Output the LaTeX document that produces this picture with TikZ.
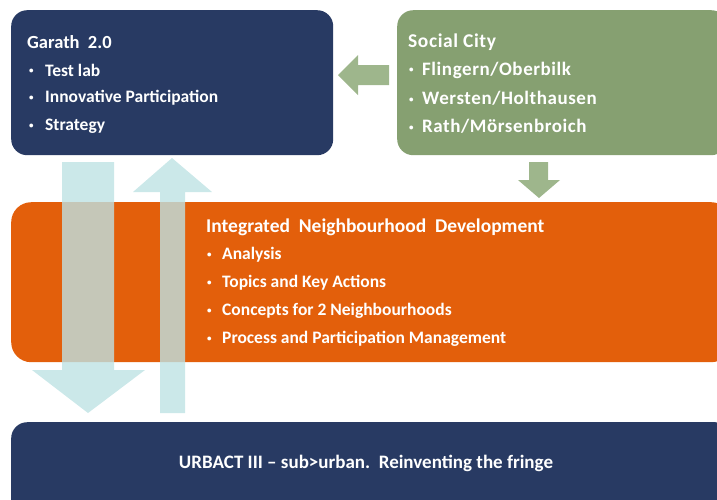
\documentclass[tikz,border=0pt]{standalone}
\usepackage{fontspec}
\setmainfont{Carlito}
\usetikzlibrary{positioning}
\definecolor{GarathNavy}{RGB}{40,58,99}
\definecolor{SocialGreen}{RGB}{134,160,113}
\definecolor{ArrowGreen}{RGB}{158,182,140}
\definecolor{IndOrange}{RGB}{227,95,11}
\definecolor{FlowBlue}{RGB}{190,226,228}
\newcommand{\dotitem}{\raisebox{2.2pt}{\fontsize{9}{9}\selectfont\textbullet}}
\tikzset{
    block/.style={rounded corners=16pt, inner sep=0pt, anchor=north west},
    boxtitle/.style={anchor=west, inner sep=0pt, text=white, font=\bfseries\fontsize{18.5}{20}\selectfont},
    boxitem/.style={anchor=west, inner sep=0pt, text=white, font=\bfseries\fontsize{17.5}{20}\selectfont},
    widetext/.style={font=\bfseries\addfontfeatures{LetterSpace=3}\fontsize{#1}{20}\selectfont},
    greenarrow/.style={fill=ArrowGreen},
    bluearrow/.style={fill=FlowBlue, fill opacity=0.8}
}

\begin{document}
\begin{tikzpicture}[x=1pt, y=-1pt]

    \useasboundingbox (0,0) rectangle (717,499);
    \clip (0,0) rectangle (717,499);

    % --- BOXES ---
    \node[block, fill=GarathNavy, minimum width=322pt, minimum height=145pt] (garath) at (11,10) {};
    \node[block, fill=SocialGreen, minimum width=330pt, minimum height=145pt] (social) at (397,10) {};
    \node[block, fill=IndOrange, minimum width=720pt, minimum height=160pt, rounded corners=20pt] (ind) at (11,202) {};
    \node[block, fill=GarathNavy, minimum width=720pt, minimum height=100pt] (urbact) at (11,422) {};

    % --- GREEN ARROWS ---
    \fill[greenarrow] (389,65) -- (358,65) -- (358,55) -- (338,75) -- (358,95) -- (358,85) -- (389,85) -- cycle;
    \fill[greenarrow] (529,162) -- (548,162) -- (548,180) -- (560,180) -- (539,198) -- (518,180) -- (529,180) -- cycle;

    % --- BLUE ARROWS (over the orange box) ---
    \fill[bluearrow] (62,162) -- (114,162) -- (114,370) -- (145,370) -- (88,413) -- (32,370) -- (62,370) -- cycle;
    \fill[bluearrow] (160,413) -- (185,413) -- (185,192) -- (212,192) -- (172,158) -- (133,192) -- (160,192) -- cycle;

    % --- TEXT ---
    \node[boxtitle] (garath-title) at (27,42) {Garath\ \ 2.0};
    \foreach \txt [count=\i] in {Test lab, Innovative Participation, Strategy}
        \node[boxitem] (garath-\i) at (29,42+28*\i) {\makebox[16pt][l]{\dotitem}\txt};

    \node[boxtitle, widetext=19.5] (social-title) at (408,42) {Social City};
    \foreach \txt [count=\i] in {Flingern/Oberbilk, Wersten/Holthausen, Rath/Mörsenbroich}
        \node[boxitem, widetext=19] (social-\i) at (409,42+28*\i) {\makebox[13pt][l]{\dotitem}\txt};

    \node[boxtitle, font=\bfseries\fontsize{19.5}{20}\selectfont] (ind-title) at (206,227) {Integrated\ \ Neighbourhood\ \ Development};
    \foreach \txt [count=\i] in {Analysis, Topics and Key Actions, Concepts for 2 Neighbourhoods, Process and Participation Management}
        \node[boxitem] (ind-\i) at (207,227+28*\i) {\makebox[15pt][l]{\dotitem}\txt};

    \node[boxtitle, anchor=center, font=\bfseries\fontsize{19}{20}\selectfont] (urbact-title) at (366,463) {URBACT III -- sub>urban.\ \ Reinventing the fringe};

\end{tikzpicture}
\end{document}
